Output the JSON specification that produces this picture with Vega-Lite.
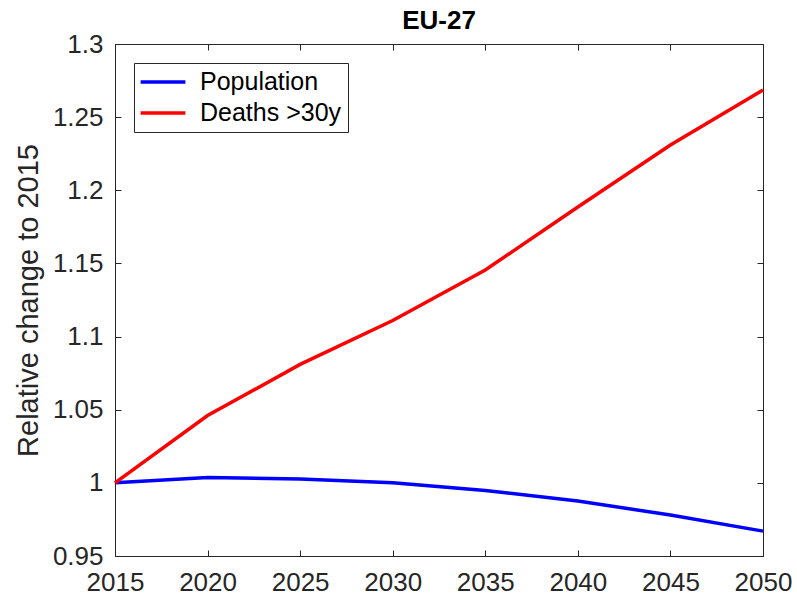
{
  "$schema": "https://vega.github.io/schema/vega-lite/v6.json",
  "width": 648,
  "height": 512,
  "autosize": {"type": "none"},
  "padding": {"left": 115, "top": 44, "right": 34, "bottom": 42},
  "background": "white",
  "config": {
    "font": "Liberation Sans",
    "view": {"stroke": "#262626", "strokeWidth": 1}
  },
  "title": {"text": "EU-27", "fontSize": 26, "fontWeight": "bold", "color": "#000000", "font": "Liberation Sans", "offset": -3, "anchor": "middle"},
  "data": {"values": [
    {"year": 2015, "series": "Population", "value": 1.0},
    {"year": 2020, "series": "Population", "value": 1.0037},
    {"year": 2025, "series": "Population", "value": 1.0027},
    {"year": 2030, "series": "Population", "value": 1.0},
    {"year": 2035, "series": "Population", "value": 0.9948},
    {"year": 2040, "series": "Population", "value": 0.9876},
    {"year": 2045, "series": "Population", "value": 0.978},
    {"year": 2050, "series": "Population", "value": 0.967},
    {"year": 2015, "series": "Deaths >30y", "value": 1.0},
    {"year": 2020, "series": "Deaths >30y", "value": 1.046},
    {"year": 2025, "series": "Deaths >30y", "value": 1.081},
    {"year": 2030, "series": "Deaths >30y", "value": 1.111},
    {"year": 2035, "series": "Deaths >30y", "value": 1.1455},
    {"year": 2040, "series": "Deaths >30y", "value": 1.1886},
    {"year": 2045, "series": "Deaths >30y", "value": 1.231},
    {"year": 2050, "series": "Deaths >30y", "value": 1.2686}
  ]},
  "layer": [
    {
      "mark": {"type": "line", "strokeWidth": 3.5},
      "encoding": {
        "x": {"field": "year", "type": "quantitative", "scale": {"domain": [2015, 2050], "nice": false, "zero": false},
          "axis": {"orient": "bottom", "values": [2015,2020,2025,2030,2035,2040,2045,2050], "format": "d", "title": null, "grid": false,
            "domain": false, "tickSize": -6, "tickColor": "#262626", "labelFontSize": 26, "labelColor": "#262626", "labelPadding": 19, "labelFlush": false, "labelOverlap": false}},
        "y": {"field": "value", "type": "quantitative", "scale": {"domain": [0.95, 1.3], "nice": false, "zero": false},
          "axis": {"orient": "left", "values": [0.95,1,1.05,1.1,1.15,1.2,1.25,1.3], "format": ".2~f", "title": "Relative change to 2015", "grid": false,
            "domain": false, "tickSize": -6, "tickColor": "#262626", "labelFontSize": 26, "labelColor": "#262626", "labelPadding": 18, "labelFlush": false, "labelOverlap": false,
            "titleFontSize": 29, "titleFontWeight": "normal", "titleColor": "#262626", "titlePadding": 9}},
        "color": {"field": "series", "type": "nominal",
          "scale": {"domain": ["Population", "Deaths >30y"], "range": ["#0000ff", "#ff0000"]},
          "legend": {"title": null, "orient": "none", "legendX": 19, "legendY": 19, "symbolType": "M-2,0L2,0", "symbolStrokeWidth": 3.5, "symbolSize": 500, "symbolOffset": 10,
            "labelFontSize": 25, "labelColor": "#000000", "labelFont": "Liberation Sans", "strokeColor": "#262626", "fillColor": "white", "padding": 6, "rowPadding": 5, "labelOffset": 24}}
      }
    },
    {
      "mark": {"type": "line", "opacity": 0},
      "encoding": {
        "x": {"field": "year", "type": "quantitative",
          "axis": {"orient": "top", "values": [2015,2020,2025,2030,2035,2040,2045,2050], "labels": false, "title": null, "grid": false, "domain": false, "tickSize": -6, "tickColor": "#262626"}},
        "y": {"field": "value", "type": "quantitative",
          "axis": {"orient": "right", "values": [0.95,1,1.05,1.1,1.15,1.2,1.25,1.3], "labels": false, "title": null, "grid": false, "domain": false, "tickSize": -6, "tickColor": "#262626"}}
      }
    }
  ],
  "resolve": {"axis": {"x": "independent", "y": "independent"}}
}
